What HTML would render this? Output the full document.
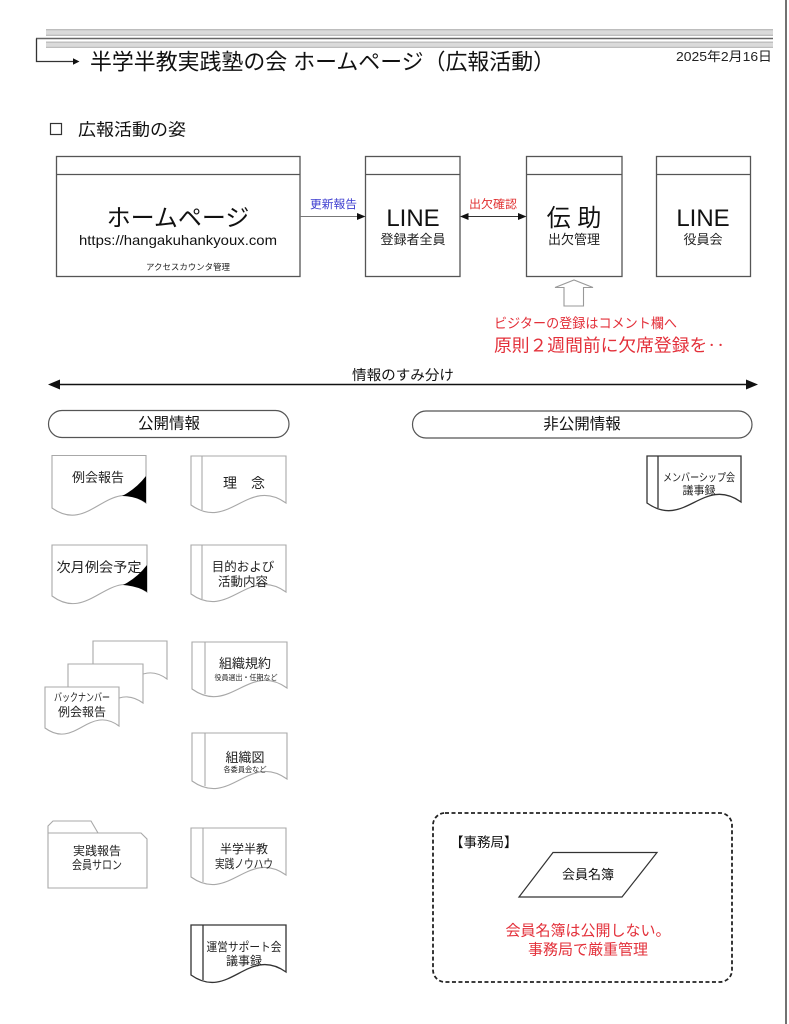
<!DOCTYPE html>
<html><head><meta charset="utf-8"><style>
html,body{margin:0;padding:0;background:#fff;}
svg{display:block;}
text{font-family:"Liberation Sans","Noto Sans CJK JP",sans-serif;}
</style></head><body>
<svg width="789" height="1024" viewBox="0 0 789 1024" xmlns="http://www.w3.org/2000/svg">
<rect x="0" y="0" width="789" height="1024" fill="#fff"/>
<!-- right page edge -->
<line x1="786" y1="0" x2="786" y2="1024" stroke="#444" stroke-width="1.5"/>

<!-- header bands -->
<rect x="46" y="29" width="727" height="7" fill="#dadada"/>
<line x1="46" y1="29.7" x2="773" y2="29.7" stroke="#bdbdbd" stroke-width="1.3"/>
<line x1="46" y1="35.3" x2="773" y2="35.3" stroke="#bdbdbd" stroke-width="1.3"/>
<line x1="36" y1="38.5" x2="773" y2="38.5" stroke="#666" stroke-width="1.4"/>
<rect x="46" y="41.5" width="727" height="6.5" fill="#dadada"/>
<line x1="46" y1="42.2" x2="773" y2="42.2" stroke="#bdbdbd" stroke-width="1.3"/>
<line x1="46" y1="47.4" x2="773" y2="47.4" stroke="#bdbdbd" stroke-width="1.3"/>
<polyline points="36.5,38.5 36.5,61.5 74,61.5" fill="none" stroke="#333" stroke-width="1.3"/>
<polygon points="73,58.3 79.5,61.5 73,64.7" fill="#111"/>

<text x="90" y="69.5" font-size="22" fill="#111" textLength="465" lengthAdjust="spacingAndGlyphs">半学半教実践塾の会 ホームページ（広報活動）</text>
<text x="676" y="61" font-size="13" fill="#222" textLength="96" lengthAdjust="spacingAndGlyphs">2025年2月16日</text>

<rect x="50.5" y="123.5" width="11" height="11" fill="none" stroke="#333" stroke-width="1.2"/>
<text x="78" y="135.5" font-size="17" fill="#111" textLength="108" lengthAdjust="spacingAndGlyphs">広報活動の姿</text>

<!-- top boxes -->
<g fill="#fff" stroke="#555" stroke-width="1.3">
<rect x="56.5" y="156.5" width="243.5" height="120"/>
<line x1="56.5" y1="174.5" x2="300" y2="174.5"/>
<rect x="365.5" y="156.5" width="94.5" height="120"/>
<line x1="365.5" y1="174.5" x2="460" y2="174.5"/>
<rect x="526.5" y="156.5" width="95.5" height="120"/>
<line x1="526.5" y1="174.5" x2="622" y2="174.5"/>
<rect x="656.5" y="156.5" width="94" height="120"/>
<line x1="656.5" y1="174.5" x2="750.5" y2="174.5"/>
</g>
<text x="178" y="226" font-size="24" fill="#111" text-anchor="middle">ホームページ</text>
<text x="178" y="245" font-size="14" fill="#111" text-anchor="middle" textLength="198" lengthAdjust="spacingAndGlyphs">https://hangakuhankyoux.com</text>
<text x="188" y="270" font-size="8.5" fill="#222" text-anchor="middle" textLength="84" lengthAdjust="spacingAndGlyphs">アクセスカウンタ管理</text>

<text x="413" y="226" font-size="24" fill="#111" text-anchor="middle">LINE</text>
<text x="413" y="244" font-size="13" fill="#222" text-anchor="middle">登録者全員</text>
<text x="574" y="226" font-size="24" fill="#111" text-anchor="middle">伝 助</text>
<text x="574" y="244" font-size="13" fill="#222" text-anchor="middle">出欠管理</text>
<text x="703" y="226" font-size="24" fill="#111" text-anchor="middle">LINE</text>
<text x="703" y="244" font-size="13" fill="#222" text-anchor="middle">役員会</text>

<!-- arrows between boxes -->
<line x1="300" y1="216.5" x2="359" y2="216.5" stroke="#777" stroke-width="1.1"/>
<polygon points="357,213 365.5,216.5 357,220" fill="#111"/>
<text x="333.5" y="208" font-size="11.5" fill="#3b3bcf" text-anchor="middle" textLength="47" lengthAdjust="spacingAndGlyphs">更新報告</text>

<line x1="466" y1="216.5" x2="520" y2="216.5" stroke="#333" stroke-width="1.1"/>
<polygon points="468.5,213 460,216.5 468.5,220" fill="#111"/>
<polygon points="518,213 526.5,216.5 518,220" fill="#111"/>
<text x="493" y="208" font-size="11.5" fill="#e03030" text-anchor="middle" textLength="48" lengthAdjust="spacingAndGlyphs">出欠確認</text>

<!-- hollow up arrow -->
<polygon points="564,306 564,287.5 555,287.5 574,280 593,287.5 583.5,287.5 583.5,306" fill="#fff" stroke="#999" stroke-width="1.1"/>
<text x="494" y="328" font-size="13.5" fill="#e3303a" textLength="183" lengthAdjust="spacingAndGlyphs">ビジターの登録はコメント欄へ</text>
<text x="494" y="351.5" font-size="17.5" fill="#e3303a" textLength="231" lengthAdjust="spacingAndGlyphs">原則２週間前に欠席登録を‥</text>

<!-- info split arrow -->
<line x1="58" y1="384.5" x2="748" y2="384.5" stroke="#111" stroke-width="1.4"/>
<polygon points="60,379.5 48,384.5 60,389.5" fill="#111"/>
<polygon points="746,379.5 758,384.5 746,389.5" fill="#111"/>
<text x="403" y="380" font-size="14" fill="#111" text-anchor="middle" textLength="102" lengthAdjust="spacingAndGlyphs">情報のすみ分け</text>

<!-- pills -->
<rect x="48.5" y="410.5" width="240.5" height="27" rx="13.5" fill="#fff" stroke="#555" stroke-width="1.2"/>
<text x="169" y="428.5" font-size="15.5" fill="#111" text-anchor="middle">公開情報</text>
<rect x="412.5" y="411" width="339.5" height="27" rx="13.5" fill="#fff" stroke="#555" stroke-width="1.2"/>
<text x="582" y="429" font-size="15.5" fill="#111" text-anchor="middle">非公開情報</text>

<!-- documents (light) -->
<g fill="#fff" stroke="#a8a8a8" stroke-width="1.1">
<path d="M52,455.5 H146 V503 C108,475 90,535 52,508 Z"/>
<path d="M191,456 H286 V503 C248,476 229,532 191,505 Z"/>
<line x1="202" y1="456" x2="202" y2="510"/>
<path d="M52,545 H147 V592 C109,564 90,624 52,596 Z"/>
<path d="M191,545 H286 V592 C248,565 229,621 191,594 Z"/>
<line x1="202" y1="545" x2="202" y2="599"/>
<path d="M192,642 H287 V688 C249,661 230,716 192,689 Z"/>
<line x1="205" y1="642" x2="205" y2="694"/>
<path d="M192,733 H287 V779 C249,752 230,808 192,781 Z"/>
<line x1="205" y1="733" x2="205" y2="786"/>
<path d="M93,641 H167 V679 C137,657 123,703 93,681 Z"/>
<path d="M68,664 H143 V703 C113,681 98,727 68,705 Z"/>
<path d="M45,687 H119 V726 C89,704 75,750 45,728 Z"/>
<path d="M48,826 L53,821 H91 L98,833 H141 L147,839 V888 H48 Z"/>
<line x1="48" y1="833" x2="98" y2="833"/>
<path d="M191,828 H286 V875 C248,848 229,904 191,877 Z"/>
<line x1="203" y1="828" x2="203" y2="882"/>
</g>
<!-- darker documents -->
<g fill="#fff" stroke="#333" stroke-width="1.3">
<path d="M191,925 H286 V972 C248,945 229,1002 191,975 Z"/>
<line x1="203" y1="925" x2="203" y2="980"/>
<path d="M647,456 H741 V502 C703,475 685,530 647,503 Z"/>
<line x1="658" y1="456" x2="658" y2="508"/>
</g>
<!-- black corners -->
<path d="M146,476 Q136,489 122,496 Q136,496 146,503 Z" fill="#000"/>
<path d="M147,565 Q137,578 123,585 Q137,586 147,592 Z" fill="#000"/>

<!-- document labels -->
<g fill="#222" text-anchor="middle">
<text x="98" y="482" font-size="13">例会報告</text>
<text x="244" y="488" font-size="14">理　念</text>
<text x="99" y="572" font-size="13.5" textLength="85" lengthAdjust="spacingAndGlyphs">次月例会予定</text>
<text x="243" y="571" font-size="12.5">目的および</text>
<text x="243" y="586" font-size="12.5">活動内容</text>
<text x="245" y="668" font-size="13">組織規約</text>
<text x="246" y="680" font-size="7.5" textLength="63" lengthAdjust="spacingAndGlyphs">役員選出・任期など</text>
<text x="245" y="762" font-size="13">組織図</text>
<text x="245" y="772" font-size="7.5" textLength="43" lengthAdjust="spacingAndGlyphs">各委員会など</text>
<text x="82" y="701" font-size="11" textLength="56" lengthAdjust="spacingAndGlyphs">バックナンバー</text>
<text x="82" y="716" font-size="12">例会報告</text>
<text x="97" y="855" font-size="12">実践報告</text>
<text x="97" y="869" font-size="12" textLength="50" lengthAdjust="spacingAndGlyphs">会員サロン</text>
<text x="244" y="853" font-size="12">半学半教</text>
<text x="244" y="868" font-size="12" textLength="58" lengthAdjust="spacingAndGlyphs">実践ノウハウ</text>
<text x="244" y="951" font-size="12" textLength="75" lengthAdjust="spacingAndGlyphs">運営サポート会</text>
<text x="244" y="965" font-size="12">議事録</text>
<text x="699" y="481" font-size="11" textLength="72" lengthAdjust="spacingAndGlyphs">メンバーシップ会</text>
<text x="699" y="494" font-size="11">議事録</text>
</g>

<!-- secretariat box -->
<rect x="433" y="813" width="299" height="169" rx="12" fill="none" stroke="#222" stroke-width="1.8" stroke-dasharray="4 2.5"/>
<text x="450" y="847" font-size="13.5" fill="#111">【事務局】</text>
<polygon points="519,897 553,852.5 657,852.5 622,897" fill="#fff" stroke="#333" stroke-width="1.2"/>
<text x="588" y="879" font-size="13" fill="#111" text-anchor="middle">会員名簿</text>
<text x="588" y="935.5" font-size="15" fill="#e3303a" text-anchor="middle">会員名簿は公開しない。</text>
<text x="588" y="954.5" font-size="15" fill="#e3303a" text-anchor="middle">事務局で厳重管理</text>
</svg>
</body></html>
